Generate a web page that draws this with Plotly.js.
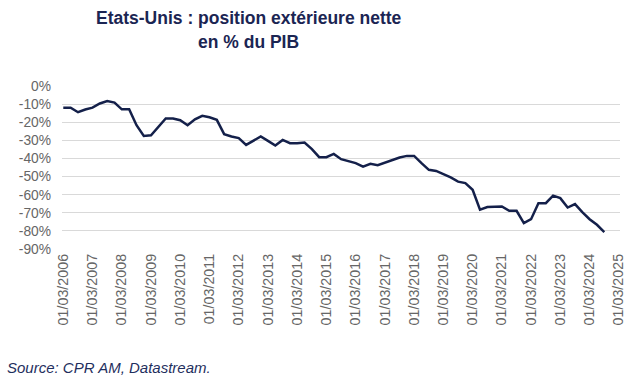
<!DOCTYPE html>
<html>
<head>
<meta charset="utf-8">
<script src="https://cdn.plot.ly/plotly-3.0.1.min.js"></script>
<style>
  html, body { margin: 0; padding: 0; background: #ffffff; }
  #chart { width: 639px; height: 382px; }
</style>
</head>
<body>
<div id="chart"></div>
<script>
// Quarterly dates (01/03, 01/06, 01/09, 01/12)
const dates = [
  '2006-03-01','2006-06-01','2006-09-01','2006-12-01',
  '2007-03-01','2007-06-01','2007-09-01','2007-12-01',
  '2008-03-01','2008-06-01','2008-09-01','2008-12-01',
  '2009-03-01','2009-06-01','2009-09-01','2009-12-01',
  '2010-03-01','2010-06-01','2010-09-01','2010-12-01',
  '2011-03-01','2011-06-01','2011-09-01','2011-12-01',
  '2012-03-01','2012-06-01','2012-09-01','2012-12-01',
  '2013-03-01','2013-06-01','2013-09-01','2013-12-01',
  '2014-03-01','2014-06-01','2014-09-01','2014-12-01',
  '2015-03-01','2015-06-01','2015-09-01','2015-12-01',
  '2016-03-01','2016-06-01','2016-09-01','2016-12-01',
  '2017-03-01','2017-06-01','2017-09-01','2017-12-01',
  '2018-03-01','2018-06-01','2018-09-01','2018-12-01',
  '2019-03-01','2019-06-01','2019-09-01','2019-12-01',
  '2020-03-01','2020-06-01','2020-09-01','2020-12-01',
  '2021-03-01','2021-06-01','2021-09-01','2021-12-01',
  '2022-03-01','2022-06-01','2022-09-01','2022-12-01',
  '2023-03-01','2023-06-01','2023-09-01','2023-12-01',
  '2024-03-01','2024-06-01','2024-09-01'
];

// Net international investment position, % of GDP
const nip = [
  -12, -12, -14.5, -13, -12, -9.7, -8.3, -9.2, -12.9, -12.9,
  -21.7, -27.6, -27.2, -22.6, -18, -18, -18.9, -21.7, -18.4, -16.5,
  -17.3, -18.7, -26.6, -27.9, -28.8, -32.5, -30.1, -27.9, -30.3, -32.9,
  -29.8, -31.6, -31.6, -31.2, -34.9, -39.3, -39.3, -37.5, -40.4, -41.3,
  -42.6, -44.5, -43, -43.7, -42.3, -41.2, -39.5, -38.6, -38.6, -42.6,
  -46.3, -46.9, -48.7, -50.5, -52.8, -53.6, -57.3, -68.2, -66.8, -66.5,
  -66.5, -68.9, -68.9, -75.7, -73.5, -64.7, -64.7, -60.5, -61.9, -67.1,
  -65.2, -69.6, -73.5, -76.6, -80.6
];

const xTickVals = [
  '2006-03-01','2007-03-01','2008-03-01','2009-03-01','2010-03-01',
  '2011-03-01','2012-03-01','2013-03-01','2014-03-01','2015-03-01',
  '2016-03-01','2017-03-01','2018-03-01','2019-03-01','2020-03-01',
  '2021-03-01','2022-03-01','2023-03-01','2024-03-01','2025-03-01'
];
const xTickText = [
  '01/03/2006','01/03/2007','01/03/2008','01/03/2009','01/03/2010',
  '01/03/2011','01/03/2012','01/03/2013','01/03/2014','01/03/2015',
  '01/03/2016','01/03/2017','01/03/2018','01/03/2019','01/03/2020',
  '01/03/2021','01/03/2022','01/03/2023','01/03/2024','01/03/2025'
];
const yTickVals = [0, -10, -20, -30, -40, -50, -60, -70, -80, -90];
const yTickText = ['0%', '-10%', '-20%', '-30%', '-40%', '-50%', '-60%', '-70%', '-80%', '-90%'];

const titleLine1 = 'Etats-Unis : position extérieure nette';
const titleLine2 = 'en % du PIB';
const sourceText = 'Source: CPR AM, Datastream.';

const FONT = 'Liberation Sans, Arial, sans-serif';
const plotTop = 85, plotBottom = 250, plotLeft = 62, plotW = 558;
const pxToPaperY = (py) => (plotBottom - py) / (plotBottom - plotTop);
const pxToPaperX = (px) => (px - plotLeft) / plotW;

const trace = {
  x: dates,
  y: nip,
  type: 'scatter',
  mode: 'lines',
  line: { color: '#14204a', width: 2.5 },
  hoverinfo: 'x+y'
};

const titleFont = { family: FONT, size: 17.5, color: '#1b2553' };

const layout = {
  width: 639,
  height: 382,
  paper_bgcolor: '#ffffff',
  plot_bgcolor: '#ffffff',
  showlegend: false,
  margin: { l: 62, r: 19, t: 85, b: 132, pad: 0 },
  font: { family: FONT, color: '#666666' },
  xaxis: {
    type: 'date',
    range: ['2006-02-13', '2025-03-16'],
    tickmode: 'array',
    tickvals: xTickVals,
    ticktext: xTickText,
    tickangle: -90,
    tickfont: { size: 14.3, color: '#666666' },
    showgrid: false,
    showline: false,
    zeroline: false,
    ticks: '',
    fixedrange: true
  },
  yaxis: {
    range: [-90.5, 0.5],
    tickmode: 'array',
    tickvals: yTickVals,
    ticktext: yTickText,
    tickfont: { size: 13.8, color: '#666666' },
    showgrid: true,
    gridcolor: '#d9d9d9',
    gridwidth: 1,
    zeroline: false,
    showline: false,
    ticks: '',
    ticklabelstandoff: 10,
    fixedrange: true
  },
  annotations: [
    {
      text: '<b>' + titleLine1 + '</b>',
      xref: 'paper', yref: 'paper',
      x: pxToPaperX(248.5), xanchor: 'center',
      y: pxToPaperY(18), yanchor: 'middle',
      showarrow: false,
      font: titleFont
    },
    {
      text: '<b>' + titleLine2 + '</b>',
      xref: 'paper', yref: 'paper',
      x: pxToPaperX(248.5), xanchor: 'center',
      y: pxToPaperY(42), yanchor: 'middle',
      showarrow: false,
      font: titleFont
    },
    {
      text: '<i>' + sourceText + '</i>',
      xref: 'paper', yref: 'paper',
      x: pxToPaperX(5), xanchor: 'left',
      y: pxToPaperY(367), yanchor: 'middle',
      showarrow: false,
      font: { family: FONT, size: 15, color: '#1f2f5e' }
    }
  ]
};

Plotly.newPlot('chart', [trace], layout, { displayModeBar: false, staticPlot: true });
</script>
</body>
</html>
